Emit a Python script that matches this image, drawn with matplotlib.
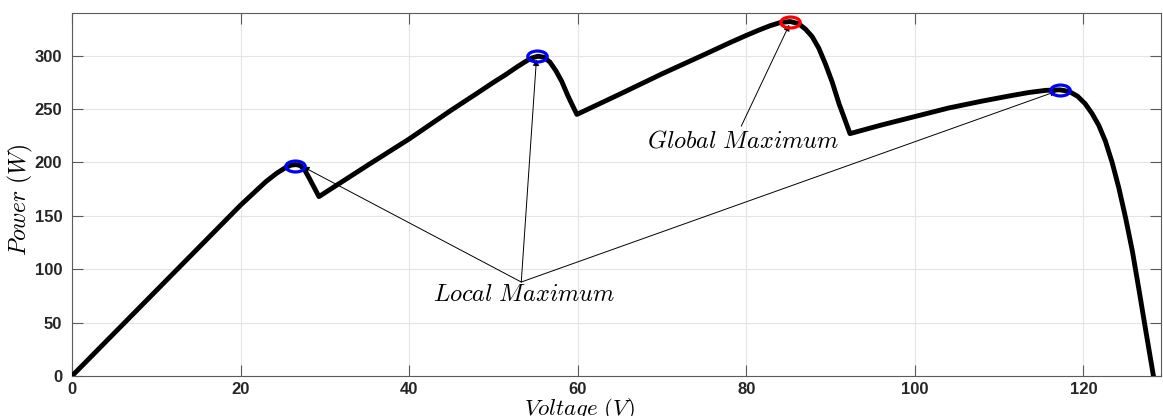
"""
PV array P-V curve under partial shading: local vs global maximum.
"""
import matplotlib

matplotlib.use("Agg")
import matplotlib.pyplot as plt
from matplotlib.path import Path
from matplotlib.transforms import Affine2D

plt.rcParams["mathtext.fontset"] = "cm"
plt.rcParams["font.family"] = ["Liberation Sans", "DejaVu Sans"]

# P-V curve (V, W)
voltage = [0, 10, 20, 21.5, 23, 24.3, 25.3, 26.0, 26.6, 27.1, 27.6, 28.1,
           28.7, 29.3,
           35, 40, 45, 48, 50, 51.5, 52.8, 53.8, 54.6, 55.3, 56, 56.7, 57.4,
           58.1, 58.8, 59.4, 59.9,
           65, 70, 75, 78, 80, 81.5, 82.8, 84, 85.2, 86.2, 87, 87.8, 88.6,
           89.4, 90.2, 91.0, 91.7, 92.3,
           96, 100, 104, 108, 111, 113.5, 115.5, 117.2, 118.3, 119.3, 120.2,
           121.0, 121.8, 122.6, 123.4, 124.2, 125.0, 125.8, 126.6, 127.4,
           128.3]
power = [0, 80, 160, 171, 182, 190, 195, 197.5, 198, 197, 193, 186,
         177, 168,
         197, 222, 249, 264.5, 275, 282.5, 289.5, 294.5, 298, 299.5, 298.5,
         294, 286, 276, 263, 253, 245,
         264, 283, 301, 312, 319, 324, 328, 331, 332, 330, 325, 318, 307,
         292, 275, 255, 240, 227,
         235, 243, 251, 257.5, 262, 265.5, 267.5, 268, 266.5, 262, 255,
         246, 235, 220, 200, 176, 148, 117, 80, 42,
         0]

# marked peaks
local_v = [26.4, 55.2, 117.2]
local_p = [197, 300, 267.5]
global_v = [85.2]
global_p = [332]

# annotation anchors
local_base = (53.3, 88)
local_tips = [(27.4, 196), (55.1, 296.5), (116.8, 266.7)]
local_text_xy = (53.7, 76)
global_base = (79.4, 234)
global_tip = (85.1, 329)
global_text_xy = (79.6, 219.5)

AX_C = "#5a5a5a"
TICK_C = "#262626"

# flattened circle marker (figure was stretched horizontally)
ELLIPSE = Path.unit_circle().transformed(Affine2D().scale(1.0, 0.56))


def arrow(ax, base, tip):
    ax.annotate("", xy=tip, xytext=base,
                arrowprops=dict(arrowstyle="-|>", lw=0.7, color="black",
                                shrinkA=0, shrinkB=0, mutation_scale=9))


def main():
    fig = plt.figure(figsize=(11.63, 4.16), dpi=100)
    ax = fig.add_axes([0.0619, 0.0962, 0.9364, 0.8726])

    ax.plot(voltage, power, color="black", lw=3.5, zorder=3,
            solid_joinstyle="round")
    ax.plot(local_v, local_p, ls="none", marker=ELLIPSE, markersize=14,
            mfc="none", mec="#0000ff", mew=2.3, zorder=4)
    ax.plot(global_v, global_p, ls="none", marker=ELLIPSE, markersize=14,
            mfc="none", mec="#ff0000", mew=2.3, zorder=4)

    for tip in local_tips:
        arrow(ax, local_base, tip)
    arrow(ax, global_base, global_tip)

    ax.text(*local_text_xy, r"$Local\ Maximum$", fontsize=17.5,
            ha="center", va="center")
    ax.text(*global_text_xy, r"$Global\ Maximum$", fontsize=17.5,
            ha="center", va="center")

    ax.set_xlim(0, 129.2)
    ax.set_ylim(0, 340)
    ax.set_xticks(range(0, 121, 20))
    ax.set_yticks(range(0, 301, 50))

    ax.set_xlabel(r"$Voltage\ (V)$", fontsize=16.5)
    ax.set_ylabel(r"$Power\ (W)$", fontsize=17)
    ax.xaxis.set_label_coords(0.466, -0.055)
    ax.yaxis.set_label_coords(-0.034, 0.485)

    ax.grid(True, color="#e4e4e4", lw=0.8)
    ax.set_axisbelow(True)
    for s in ax.spines.values():
        s.set_color(AX_C)
        s.set_linewidth(0.8)
    ax.tick_params(direction="in", length=8, width=0.8, color=AX_C,
                   top=True, right=True, labelsize=12, labelcolor=TICK_C)
    ax.tick_params(axis="x", pad=4)
    ax.tick_params(axis="y", pad=7)
    for lab in ax.get_xticklabels() + ax.get_yticklabels():
        lab.set_fontweight("bold")

    fig.savefig("out.png", dpi=100)
    plt.close(fig)


if __name__ == "__main__":
    main()
